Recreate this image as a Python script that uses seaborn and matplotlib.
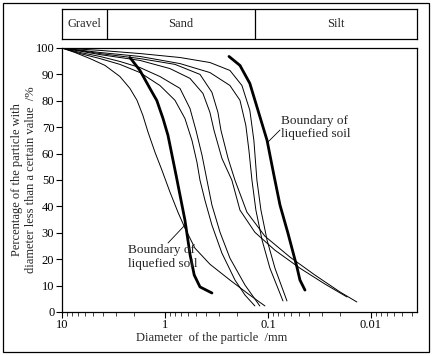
import numpy as np
import pandas as pd
import matplotlib
matplotlib.use("Agg")
import matplotlib.pyplot as plt
import seaborn as sns
from matplotlib.ticker import FixedLocator, LogLocator, NullFormatter, FixedFormatter

sns.set_theme(style="white")
plt.rcParams['font.family'] = ['Liberation Serif', 'DejaVu Serif']

# ---- data: particle size distribution curves (diameter mm, percent finer) ----
curve_A_d = [10, 7.48, 5.35, 3.82, 2.74, 2.19, 1.87, 1.64, 1.46, 1.25, 1.07, 0.894, 0.748, 0.640, 0.512, 0.366, 0.234, 0.150, 0.107]
curve_A_p = [100, 98.3, 96.0, 93.4, 89.2, 84.7, 80.2, 74.5, 68.1, 60.5, 53.7, 45.4, 37.8, 31.8, 24.2, 18.1, 12.1, 6.4, 2.3]

curve_B_d = [10, 6.68, 4.28, 2.74, 1.75, 1.12, 0.80, 0.640, 0.547, 0.489, 0.457, 0.409, 0.350, 0.280, 0.209, 0.167, 0.134]
curve_B_p = [100, 97.9, 96.0, 93.8, 90.7, 85.8, 80.2, 73.3, 65.0, 56.7, 49.9, 42.3, 32.9, 22.3, 12.1, 6.4, 2.3]

curve_C_d = [10, 6.68, 4.28, 2.74, 1.75, 1.12, 0.715, 0.572, 0.500, 0.437, 0.391, 0.350, 0.292, 0.234, 0.167, 0.120]
curve_C_p = [100, 98.3, 96.8, 94.9, 92.6, 89.2, 84.7, 77.1, 68.8, 59.4, 49.9, 40.5, 30.2, 20.4, 10.2, 2.3]

curve_D_d = [10, 4.28, 1.75, 0.715, 0.366, 0.234, 0.187, 0.164, 0.153, 0.143, 0.131, 0.114, 0.0957, 0.0715]
curve_D_p = [100, 98.3, 96.8, 94.1, 90.7, 85.8, 80.2, 70.7, 61.2, 49.9, 38.6, 27.2, 16.6, 4.2]

curve_E_d = [10, 4.28, 1.75, 0.894, 0.572, 0.428, 0.366, 0.334, 0.280, 0.224, 0.187, 0.134, 0.0855, 0.0489, 0.0280, 0.0171]
curve_E_p = [100, 97.5, 95.3, 92.2, 88.5, 82.8, 75.6, 68.8, 58.2, 49.9, 38.6, 30.2, 23.4, 16.6, 10.6, 5.7]

curve_F_d = [10, 4.28, 1.75, 0.80, 0.457, 0.350, 0.306, 0.286, 0.244, 0.209, 0.160, 0.107, 0.0611, 0.0350, 0.0200, 0.0137]
curve_F_p = [100, 97.9, 96.0, 93.8, 90.0, 83.2, 75.6, 68.8, 58.2, 49.9, 37.8, 28.7, 20.8, 14.0, 7.6, 3.8]

curve_G_d = [10, 4.28, 1.75, 0.715, 0.366, 0.234, 0.179, 0.150, 0.137, 0.128, 0.117, 0.102, 0.0855, 0.0654]
curve_G_p = [100, 99.1, 97.9, 96.4, 94.5, 91.5, 85.8, 76.4, 65.0, 49.9, 38.6, 27.2, 16.6, 4.2]

boundary_left_d = [2.19, 1.75, 1.40, 1.20, 1.045, 0.935, 0.78, 0.64, 0.57, 0.52, 0.457, 0.35]
boundary_left_p = [96.4, 91.5, 84.7, 80.1, 73.3, 66.9, 51.8, 34.8, 21.6, 14.0, 9.5, 7.2]

boundary_right_d = [0.239, 0.187, 0.150, 0.125, 0.102, 0.0875, 0.0764, 0.064, 0.0523, 0.0489, 0.0437]
boundary_right_p = [96.8, 93.4, 86.6, 76.4, 65.0, 51.8, 40.5, 29.9, 17.0, 12.1, 8.3]

x_ticks = [10, 1, 0.1, 0.01]
x_tick_labels = ["10", "1", "0.1", "0.01"]
y_ticks = [0, 10, 20, 30, 40, 50, 60, 70, 80, 90, 100]
band_labels = ["Gravel", "Sand", "Silt"]
annotation_text = "Boundary of\nliquefied soil"

thin = {"A": (curve_A_d, curve_A_p), "B": (curve_B_d, curve_B_p), "C": (curve_C_d, curve_C_p),
        "D": (curve_D_d, curve_D_p), "E": (curve_E_d, curve_E_p), "F": (curve_F_d, curve_F_p),
        "G": (curve_G_d, curve_G_p)}
rows = []
for name, (dd, pp) in thin.items():
    for i, (d, p) in enumerate(zip(dd, pp)):
        rows.append({"curve": name, "order": i, "d": d, "p": p})
df_thin = pd.DataFrame(rows)
thick = {"left": (boundary_left_d, boundary_left_p), "right": (boundary_right_d, boundary_right_p)}
rows = []
for name, (dd, pp) in thick.items():
    for i, (d, p) in enumerate(zip(dd, pp)):
        rows.append({"curve": name, "order": i, "d": d, "p": p})
df_thick = pd.DataFrame(rows)

W, H = 433, 356
fig = plt.figure(figsize=(W / 100, H / 100), dpi=100)
fig.patch.set_facecolor("white")

def fx(px):
    return px / W

def fy(py):
    return 1 - py / H

ax = fig.add_axes([fx(62), fy(312), fx(417) - fx(62), fy(48) - fy(312)])
sns.lineplot(data=df_thin, x="d", y="p", units="curve", estimator=None, sort=False,
             color="black", lw=0.7, ax=ax)
sns.lineplot(data=df_thick, x="d", y="p", units="curve", estimator=None, sort=False,
             color="black", lw=2.0, ax=ax)

ax.set_xscale("log")
ax.set_xlim(10, 0.00357)
ax.set_ylim(0, 100)
ax.xaxis.set_major_locator(FixedLocator(x_ticks))
ax.xaxis.set_major_formatter(FixedFormatter(x_tick_labels))
ax.xaxis.set_minor_locator(LogLocator(base=10, subs=np.arange(2, 10)))
ax.xaxis.set_minor_formatter(NullFormatter())
ax.set_yticks(y_ticks)
ax.set_yticklabels([str(v) for v in y_ticks])
ax.tick_params(axis="both", which="major", direction="out", length=4, width=0.8,
               labelsize=9, colors="black", pad=1.5)
ax.tick_params(axis="x", which="minor", direction="out", length=3, width=0.6, bottom=True)
ax.tick_params(axis="x", which="major", bottom=True, pad=1)
ax.tick_params(axis="y", which="major", left=True)
for s in ax.spines.values():
    s.set_visible(True)
    s.set_color("black")
    s.set_linewidth(0.9)
ax.set_xlabel("")
ax.set_ylabel("")
ax.grid(False)

# annotations
ax.text(0.617, 0.70, annotation_text, transform=ax.transAxes, fontsize=9.5,
        ha="left", va="center", linespacing=1.15)
ax.plot([(268 - 62) / 355, (280 - 62) / 355], [(312 - 142) / 264, (312 - 130) / 264],
        transform=ax.transAxes, color="black", lw=0.6)
ax.text(0.186, 0.208, annotation_text, transform=ax.transAxes, fontsize=9.5,
        ha="left", va="center", linespacing=1.15)
ax.plot([(168 - 62) / 355, (185 - 62) / 355], [(312 - 243) / 264, (312 - 225) / 264],
        transform=ax.transAxes, color="black", lw=0.6)

# axis labels
fig.text(fx(212), fy(338), "Diameter  of the particle  /mm", ha="center", va="center", fontsize=9)
fig.text(fx(17), fy(180), "Percentage of the particle with", rotation=90,
         ha="center", va="center", fontsize=9)
fig.text(fx(31), fy(180), "diameter less than a certain value  /%", rotation=90,
         ha="center", va="center", fontsize=9)

# soil-type band
bax = fig.add_axes([fx(62), fy(39), fx(417) - fx(62), fy(9) - fy(39)])
bax.set_xlim(62, 417)
bax.set_ylim(0, 1)
bax.set_xticks([])
bax.set_yticks([])
for s in bax.spines.values():
    s.set_visible(True)
    s.set_color("black")
    s.set_linewidth(0.9)
for xv in [107, 255]:
    bax.axvline(xv, color="black", lw=0.9)
for xc, lab in zip([84.5, 181, 336], band_labels):
    bax.text(xc, 0.5, lab, ha="center", va="center", fontsize=9)

# outer frame
frame = plt.Rectangle((fx(3), fy(352)), fx(429) - fx(3), fy(3) - fy(352),
                      transform=fig.transFigure, fill=False, edgecolor="black", lw=0.9)
fig.patches.append(frame)

fig.savefig("out.png", dpi=100)
